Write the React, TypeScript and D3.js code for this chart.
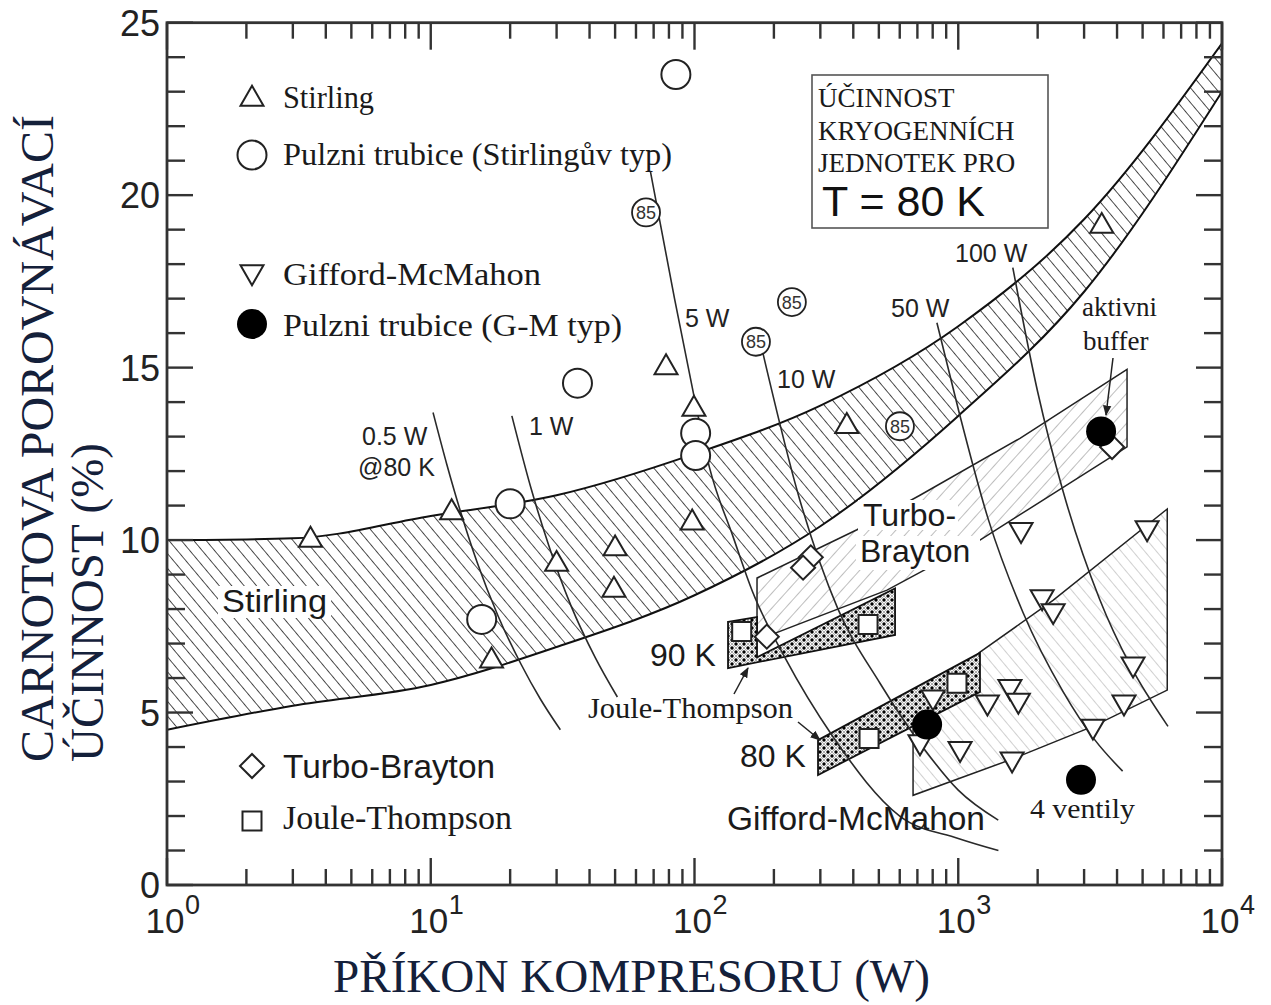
import React from "react";
import * as d3 from "d3";

// ---------- axis ticks ----------
const xTickValues = [1, 10, 100, 1000, 10000];
const xTickExponents = ["0", "1", "2", "3", "4"];
const yTickValues = [0, 5, 10, 15, 20, 25];

// ---------- Stirling band (W, upper %, lower %) ----------
const stirlingBandW = [1, 3, 10, 30, 100, 300, 1000, 3000, 10000];
const stirlingBandUpper = [10.0, 10.05, 10.7, 11.3, 12.5, 13.9, 16.2, 19.3, 24.4];
const stirlingBandLower = [4.5, 5.2, 5.8, 6.9, 8.4, 10.4, 13.6, 17.2, 23.0];

// ---------- regions (W, %) ----------
const turboBraytonRegion: [number, number][] = [
  [172.6, 8.9], [413, 10.3], [716, 11.3], [1714, 12.95], [4365, 14.95],
  [4365, 12.7], [1208, 10.0], [537, 8.55], [172.6, 7.1],
];
const giffordRegion: [number, number][] = [
  [674, 4.9], [1209, 6.75], [2287, 8.25], [6200, 10.9],
  [6200, 5.65], [3240, 4.6], [1600, 3.65], [674, 2.6],
];
const jt90Region: [number, number][] = [
  [134, 7.63], [172.6, 7.77], [172.6, 6.6], [576, 8.6], [576, 7.25], [134, 6.29],
];
const jt80Region: [number, number][] = [
  [294, 4.2], [1209, 6.73], [1209, 5.6], [294, 3.19],
];

// ---------- constant cooling capacity lines (W, %) ----------
const iso05W: [number, number][] = [[10.2, 13.7], [11.5, 12.2], [13, 10.8], [15, 9.35], [18, 7.8], [22, 6.4], [26, 5.4], [31, 4.5]];
const iso1W: [number, number][] = [[20.3, 13.6], [24, 11.5], [28, 9.85], [34, 8.1], [42, 6.6], [51, 5.45]];
const iso5W: [number, number][] = [[68, 20.7], [84, 17], [100, 14.1], [114, 12.1], [140, 10.1], [166, 8.5], [220, 6.6], [335, 4.3], [600, 2.0], [1000, 1.35], [1420, 1.0]];
const iso10W: [number, number][] = [[182, 15.4], [250, 11.2], [350, 8.0], [505, 5.85], [750, 3.9], [1000, 2.75], [1418, 1.88]];
const iso50W: [number, number][] = [[830, 16.3], [1000, 13.8], [1300, 10.6], [1760, 7.9], [2500, 5.6], [3300, 4.2], [4200, 3.3]];
const iso100W: [number, number][] = [[1610, 17.9], [2000, 14.3], [2500, 11.4], [3430, 8.3], [4500, 6.35], [6240, 4.6]];

// ---------- data points (W, %) ----------
const stirlingPoints: [number, number][] = [
  [3.5, 10.0], [12, 10.8], [17, 6.5], [30, 9.3], [50, 9.75], [49.5, 8.55],
  [78, 15.0], [99.5, 13.8], [98, 10.5], [378, 13.3], [3500, 19.1],
];
const pulseTubeStirlingPoints: [number, number][] = [
  [85, 23.5], [36, 14.55], [20, 11.05], [15.6, 7.7], [101, 13.1], [101, 12.45],
];
const pulseTube85Points: [number, number][] = [[65.5, 19.5], [171, 15.75], [234, 16.9], [601, 13.3]];
const giffordPoints: [number, number][] = [
  [1730, 10.3], [2080, 8.35], [2290, 7.95], [5200, 10.35], [4600, 6.4], [4250, 5.3],
  [3240, 4.6], [1570, 5.75], [1690, 5.35], [1290, 5.3], [1016, 3.95], [1600, 3.65],
  [716, 4.15], [802, 5.45],
];
const pulseTubeGMPoints: [number, number][] = [[3480, 13.15], [762, 4.65], [2920, 3.05]];
const turboBraytonPoints: [number, number][] = [[3830, 12.7], [276, 9.5], [258, 9.2], [188, 7.2]];
const jouleThompsonPoints: [number, number][] = [[151, 7.35], [455, 7.55], [459, 4.25], [989, 5.85]];

const SERIF = "'Liberation Serif','Times New Roman',serif";
const SANS = "'Liberation Sans',Arial,sans-serif";
const INK = "#1a1a1a";
const TITLE = "#14203a";

export default function App() {
  const L = 167, R = 1222, T = 22.7, B = 885;
  const x = d3.scaleLog().domain([1, 10000]).range([L, R]);
  const y = d3.scaleLinear().domain([0, 25]).range([B, T]);

  const bandData = stirlingBandW.map((w, i) => ({ w, u: stirlingBandUpper[i], l: stirlingBandLower[i] }));
  const area = d3.area<any>().x(d => x(d.w)).y0(d => y(d.l)).y1(d => y(d.u)).curve(d3.curveMonotoneX);
  const upperLine = d3.line<any>().x(d => x(d.w)).y(d => y(d.u)).curve(d3.curveMonotoneX);
  const lowerLine = d3.line<any>().x(d => x(d.w)).y(d => y(d.l)).curve(d3.curveMonotoneX);
  const poly = d3.line<[number, number]>().x(d => x(d[0])).y(d => y(d[1]));
  const curve = d3.line<[number, number]>().x(d => x(d[0])).y(d => y(d[1])).curve(d3.curveMonotoneX);

  const triSize = 23 * 23 * Math.sqrt(3) / 4;
  const tri = d3.symbol().type(d3.symbolTriangle).size(triSize)() as string;
  const sq = d3.symbol().type(d3.symbolSquare).size(19 * 19)() as string;
  const dia = d3.symbol().type(d3.symbolSquare).size(17 * 17)() as string;

  const xMinor: number[] = [];
  for (let d = 0; d < 4; d++) for (let k = 2; k <= 9; k++) xMinor.push(k * Math.pow(10, d));
  const yAll = d3.range(0, 26);

  const isoLines = [iso05W, iso1W, iso5W, iso10W, iso50W, iso100W];

  const markerStroke = { stroke: "#222", strokeWidth: 2 };

  const TriUp = ({ cx, cy }: any) => <path d={tri} transform={`translate(${cx},${cy})`} fill="#fff" {...markerStroke} />;
  const TriDown = ({ cx, cy }: any) => <path d={tri} transform={`translate(${cx},${cy}) rotate(180)`} fill="#fff" {...markerStroke} />;
  const Diamond = ({ cx, cy }: any) => <path d={dia} transform={`translate(${cx},${cy}) rotate(45)`} fill="#fff" {...markerStroke} />;
  const Square = ({ cx, cy }: any) => <path d={sq} transform={`translate(${cx},${cy})`} fill="#fff" {...markerStroke} />;

  return (
    <svg width={1271} height={1005} style={{ position: "absolute", left: 0, top: 0, background: "#fff" }}>
      <defs>
        <clipPath id="plot"><rect x={L} y={T} width={R - L} height={B - T} /></clipPath>
        <pattern id="hatchStirling" patternUnits="userSpaceOnUse" width="9.5" height="9.5" patternTransform="rotate(-40)">
          <line x1="0" y1="0" x2="0" y2="9.5" stroke="#222" strokeWidth="1.6" />
        </pattern>
        <pattern id="hatchTB" patternUnits="userSpaceOnUse" width="10" height="10" patternTransform="rotate(42)">
          <line x1="0" y1="0" x2="0" y2="10" stroke="#9a9a9a" strokeWidth="1.3" />
        </pattern>
        <pattern id="hatchGM" patternUnits="userSpaceOnUse" width="9" height="9" patternTransform="rotate(-40)">
          <line x1="0" y1="0" x2="0" y2="9" stroke="#b0b0b0" strokeWidth="1.2" />
        </pattern>
        <pattern id="dotsJT" patternUnits="userSpaceOnUse" width="8" height="8">
          <rect width="8" height="8" fill="#fafafa" />
          <path d="M0,0 L8,8 M8,0 L0,8" stroke="#777" strokeWidth="0.6" />
          <circle cx="0" cy="4" r="1.7" fill="#000" />
          <circle cx="8" cy="4" r="1.7" fill="#000" />
          <circle cx="4" cy="0" r="1.7" fill="#000" />
          <circle cx="4" cy="8" r="1.7" fill="#000" />
        </pattern>
        <marker id="arrow" viewBox="0 0 10 10" refX="9" refY="5" markerWidth="7" markerHeight="7" orient="auto">
          <path d="M0,1 L10,5 L0,9 z" fill="#222" />
        </marker>
      </defs>

      <g clipPath="url(#plot)">
        {/* Stirling band */}
        <path d={area(bandData) as string} fill="url(#hatchStirling)" />
        <path d={upperLine(bandData) as string} fill="none" stroke="#111" strokeWidth={2} />
        <path d={lowerLine(bandData) as string} fill="none" stroke="#111" strokeWidth={2} />

        {/* Gifford-McMahon and Turbo-Brayton regions */}
        <path d={(poly(giffordRegion) as string) + "Z"} fill="url(#hatchGM)" stroke="#222" strokeWidth={1.5} />
        <path d={(poly(turboBraytonRegion) as string) + "Z"} fill="url(#hatchTB)" stroke="#222" strokeWidth={1.5} />

        {/* Joule-Thompson bands */}
        <path d={(poly(jt90Region) as string) + "Z"} fill="url(#dotsJT)" stroke="#111" strokeWidth={1.8} />
        <path d={(poly(jt80Region) as string) + "Z"} fill="url(#dotsJT)" stroke="#111" strokeWidth={1.8} />

        {/* constant capacity lines */}
        {isoLines.map((pts, i) => (
          <path key={i} d={curve(pts) as string} fill="none" stroke="#2a2a2a" strokeWidth={1.6} />
        ))}
      </g>

      {/* capacity labels */}
      <g fontFamily={SANS} fontSize={25} fill="#222">
        <text x={362} y={445}>0.5 W</text>
        <text x={358} y={476}>@80 K</text>
        <text x={529} y={435}>1 W</text>
        <text x={685} y={327}>5 W</text>
        <text x={777} y={388}>10 W</text>
        <text x={891} y={317}>50 W</text>
        <text x={955} y={262}>100 W</text>
      </g>

      {/* region labels */}
      <rect x={218} y={586} width={113} height={32} fill="#fff" />
      <text x={222} y={612} fontFamily={SANS} fontSize={31} fill={INK} textLength={105} lengthAdjust="spacingAndGlyphs">Stirling</text>
      <rect x={858} y={500} width={100} height={30} fill="#fff" />
      <rect x={856} y={536} width={124} height={34} fill="#fff" />
      <text x={863} y={526} fontFamily={SANS} fontSize={32} fill={INK}>Turbo-</text>
      <text x={860} y={562} fontFamily={SANS} fontSize={32} fill={INK}>Brayton</text>
      <text x={650} y={666} fontFamily={SANS} fontSize={32} fill={INK}>90 K</text>
      <text x={740} y={767} fontFamily={SANS} fontSize={32} fill={INK}>80 K</text>
      <text x={727} y={830} fontFamily={SANS} fontSize={33} fill={INK} textLength={258} lengthAdjust="spacingAndGlyphs">Gifford-McMahon</text>
      <text x={588} y={718} fontFamily={SERIF} fontSize={29} fill={INK} textLength={205} lengthAdjust="spacingAndGlyphs">Joule-Thompson</text>
      <line x1={734} y1={694} x2={748} y2={668} stroke="#222" strokeWidth={1.5} markerEnd="url(#arrow)" />
      <line x1={798} y1={722} x2={820} y2={740} stroke="#222" strokeWidth={1.5} markerEnd="url(#arrow)" />
      <text x={1082} y={316} fontFamily={SERIF} fontSize={27} fill={INK}>aktivni</text>
      <text x={1083} y={350} fontFamily={SERIF} fontSize={27} fill={INK}>buffer</text>
      <line x1={1113} y1={358} x2={1106} y2={415} stroke="#222" strokeWidth={1.5} markerEnd="url(#arrow)" />
      <text x={1030} y={818} fontFamily={SERIF} fontSize={27} fill={INK} textLength={105} lengthAdjust="spacingAndGlyphs">4 ventily</text>

      {/* markers */}
      <g>
        {jouleThompsonPoints.map((d, i) => <Square key={"jt" + i} cx={x(d[0])} cy={y(d[1])} />)}
        {turboBraytonPoints.map((d, i) => <Diamond key={"tb" + i} cx={x(d[0])} cy={y(d[1])} />)}
        {stirlingPoints.map((d, i) => <TriUp key={"st" + i} cx={x(d[0])} cy={y(d[1])} />)}
        {giffordPoints.map((d, i) => <TriDown key={"gm" + i} cx={x(d[0])} cy={y(d[1])} />)}
        {pulseTubeStirlingPoints.map((d, i) => (
          <circle key={"pt" + i} cx={x(d[0])} cy={y(d[1])} r={14.5} fill="#fff" {...markerStroke} />
        ))}
        {pulseTube85Points.map((d, i) => (
          <g key={"p85" + i}>
            <circle cx={x(d[0])} cy={y(d[1])} r={14} fill="#fff" stroke="#222" strokeWidth={1.8} />
            <text x={x(d[0])} y={y(d[1]) + 6.5} textAnchor="middle" fontFamily={SANS} fontSize={18} fill="#333">85</text>
          </g>
        ))}
        {pulseTubeGMPoints.map((d, i) => (
          <circle key={"pg" + i} cx={x(d[0])} cy={y(d[1])} r={15} fill="#000" />
        ))}
      </g>

      {/* frame and ticks */}
      <g stroke="#333" strokeWidth={2.4}>
        {xMinor.map((v, i) => (
          <g key={"xm" + i}>
            <line x1={x(v)} x2={x(v)} y1={B} y2={B - 16} />
            <line x1={x(v)} x2={x(v)} y1={T} y2={T + 16} />
          </g>
        ))}
        {xTickValues.map((v, i) => (
          <g key={"xM" + i}>
            <line x1={x(v)} x2={x(v)} y1={B} y2={B - 27} />
            <line x1={x(v)} x2={x(v)} y1={T} y2={T + 27} />
          </g>
        ))}
        {yAll.map((v) => {
          const len = v % 5 === 0 ? 26 : 18;
          return (
            <g key={"y" + v}>
              <line x1={L} x2={L + len} y1={y(v)} y2={y(v)} />
              <line x1={R} x2={R - len} y1={y(v)} y2={y(v)} />
            </g>
          );
        })}
        <rect x={L} y={T} width={R - L} height={B - T} fill="none" strokeWidth={2.8} />
      </g>

      {/* tick labels */}
      <g fontFamily={SANS} fill="#222">
        {yTickValues.map((v) => (
          <text key={"yl" + v} x={160} y={y(v) + 13} textAnchor="end" fontSize={36}>{v}</text>
        ))}
        {xTickValues.map((v, i) => (
          <g key={"xl" + i}>
            <text x={x(v) - 2} y={933} textAnchor="middle" fontSize={35}>10</text>
            <text x={x(v) + 18} y={914} fontSize={27}>{xTickExponents[i]}</text>
          </g>
        ))}
      </g>

      {/* axis titles */}
      <text x={333} y={992} fontFamily={SERIF} fontSize={47} fill={TITLE} textLength={597} lengthAdjust="spacingAndGlyphs">PŘÍKON KOMPRESORU (W)</text>
      <text transform="translate(53,762) rotate(-90)" fontFamily={SERIF} fontSize={47} fill={TITLE} textLength={647} lengthAdjust="spacingAndGlyphs">CARNOTOVA POROVNÁVACÍ</text>
      <text transform="translate(103,762) rotate(-90)" fontFamily={SERIF} fontSize={47} fill={TITLE}>ÚČINNOST (%)</text>

      {/* legend */}
      <g fontFamily={SERIF} fontSize={32} fill={INK}>
        <TriUp cx={252} cy={99} />
        <text x={283} y={108} textLength={91} lengthAdjust="spacingAndGlyphs">Stirling</text>
        <circle cx={252} cy={155} r={14.5} fill="#fff" {...markerStroke} />
        <text x={283} y={165} textLength={389} lengthAdjust="spacingAndGlyphs">Pulzni trubice (Stirlingův typ)</text>
        <TriDown cx={252} cy={272} />
        <text x={283} y={285} textLength={258} lengthAdjust="spacingAndGlyphs">Gifford-McMahon</text>
        <circle cx={252} cy={324} r={15} fill="#000" />
        <text x={283} y={336} textLength={339} lengthAdjust="spacingAndGlyphs">Pulzni trubice (G-M typ)</text>
        <Diamond cx={252} cy={766} />
        <text x={283} y={778} fontFamily={SANS} fontSize={33} textLength={212} lengthAdjust="spacingAndGlyphs">Turbo-Brayton</text>
        <Square cx={252} cy={821} />
        <text x={283} y={829} fontSize={33} textLength={229} lengthAdjust="spacingAndGlyphs">Joule-Thompson</text>
      </g>

      {/* title box */}
      <rect x={812} y={75} width={236} height={153} fill="#fff" stroke="#555" strokeWidth={1.6} />
      <g fontFamily={SERIF} fontSize={27} fill={INK}>
        <text x={818} y={107}>ÚČINNOST</text>
        <text x={818} y={140}>KRYOGENNÍCH</text>
        <text x={818} y={172}>JEDNOTEK PRO</text>
      </g>
      <text x={822} y={216} fontFamily={SANS} fontSize={43} fill="#111">T = 80 K</text>
    </svg>
  );
}
